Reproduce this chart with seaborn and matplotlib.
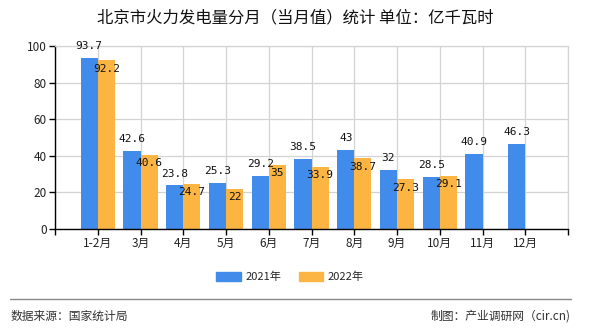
import matplotlib
matplotlib.use("Agg")
import matplotlib.pyplot as plt
import seaborn as sns
import pandas as pd
import numpy as np
from matplotlib.lines import Line2D

months = ["1-2月", "3月", "4月", "5月", "6月", "7月", "8月", "9月", "10月", "11月", "12月"]
v2021 = [93.7, 42.6, 23.8, 25.3, 29.2, 38.5, 43, 32, 28.5, 40.9, 46.3]
v2022 = [92.2, 40.6, 24.7, 22, 35, 33.9, 38.7, 27.3, 29.1, np.nan, np.nan]
series = ["2021年", "2022年"]
colors = ["#418BEB", "#FCB443"]
yticks = [0, 20, 40, 60, 80, 100]
title = "北京市火力发电量分月（当月值）统计 单位：亿千瓦时"
source = "数据来源：国家统计局"
maker = "制图：产业调研网（cir.cn)"

sns.set_theme(style="white")
plt.rcParams['font.family'] = ['Noto Sans CJK SC', 'DejaVu Sans']

df = pd.DataFrame({
    "month": months * 2,
    "value": v2021 + v2022,
    "year": [series[0]] * len(months) + [series[1]] * len(months),
})

fig = plt.figure(figsize=(5.9, 3.3), dpi=100)
ax = fig.add_axes([55/590, 1-229/330, 513/590, 183/330])

sns.barplot(data=df, x="month", y="value", hue="year", order=months,
            hue_order=series, palette=colors, saturation=1, width=0.8,
            ax=ax, legend=False, edgecolor="none")

ax.set_xlim(-1, len(months))
ax.set_ylim(0, 100)
ax.set_yticks(yticks)
ax.set_yticklabels([str(t) for t in yticks], fontsize=8.5, color="#222222")
ax.set_xticks(range(-1, len(months) + 1))
ax.set_xticklabels([""] + months + [""], fontsize=8.5, color="#222222")
ax.set_xlabel("")
ax.set_ylabel("")
ax.grid(True, color="#d3d3d3", linewidth=0.9)
ax.set_axisbelow(True)
for s in ["top", "right"]:
    ax.spines[s].set_color("#d3d3d3")
    ax.spines[s].set_linewidth(0.9)
for s in ["left", "bottom"]:
    ax.spines[s].set_color("#000000")
    ax.spines[s].set_linewidth(1.0)
ax.tick_params(axis="both", which="both", length=4, width=1, color="#000000",
               direction="out", bottom=True, left=True, pad=2)

def fmt(v):
    return f"{v:g}"

for ci, cont in enumerate(ax.containers):
    for p in cont.patches:
        h = p.get_height()
        if h is None or np.isnan(h):
            continue
        cx = p.get_x() + p.get_width() / 2
        if ci == 0:
            ax.annotate(fmt(h), (cx, h), xytext=(0, 5), textcoords="offset points",
                        ha="center", va="bottom", fontsize=8,
                        family=["DejaVu Sans Mono"], color="#111111")
        else:
            ax.annotate(fmt(h), (cx, h), xytext=(0, -2.5), textcoords="offset points",
                        ha="center", va="top", fontsize=8,
                        family=["DejaVu Sans Mono"], color="#111111")

fig.text(0.5, 1-18/330, title, ha="center", va="center", fontsize=11.8,
         color="#111111", fontweight="medium")

handles = [plt.Rectangle((0, 0), 1, 1, color=c) for c in colors]
fig.legend(handles, series, loc="center", bbox_to_anchor=(290/590, 1-277/330),
           ncol=2, frameon=False, fontsize=8, handlelength=2.2, handleheight=0.8,
           columnspacing=1.6, handletextpad=0.4)

fig.add_artist(Line2D([10/590, 571/590], [1-299/330, 1-299/330],
                      transform=fig.transFigure, color="#888888", linewidth=1))
fig.text(11/590, 1-316/330, source, ha="left", va="center", fontsize=8.5, color="#333333")
fig.text(571/590, 1-316/330, maker, ha="right", va="center", fontsize=8.5, color="#333333")

fig.savefig("out.png", dpi=100)
